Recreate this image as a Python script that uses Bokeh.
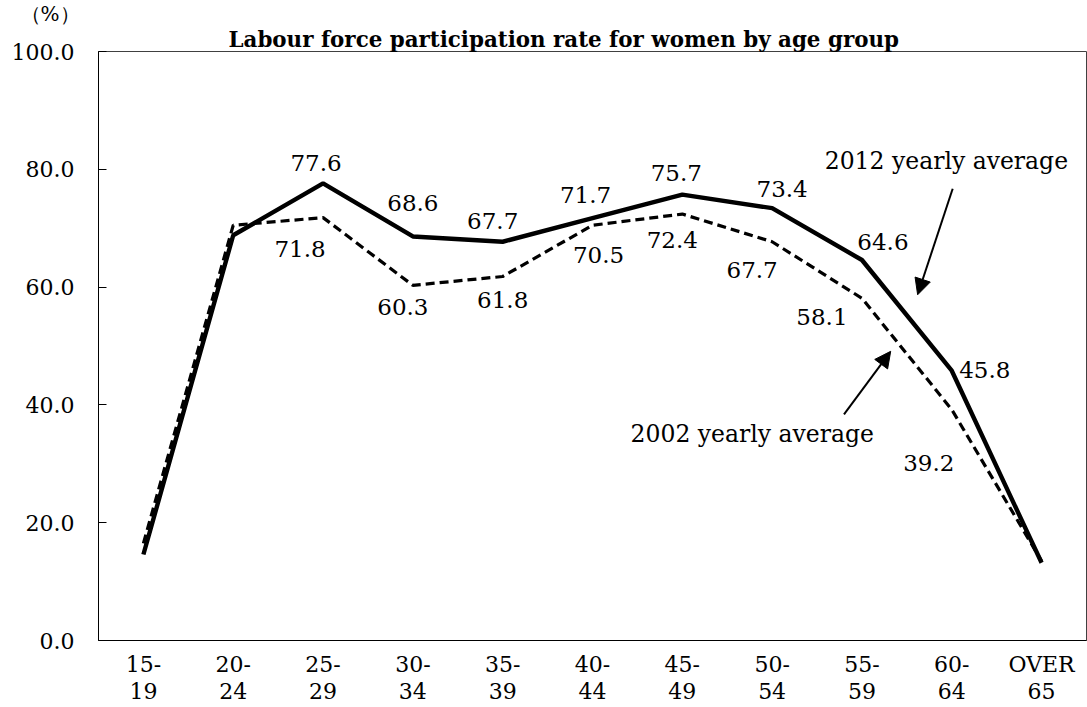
from bokeh.plotting import figure
from bokeh.models import (ColumnDataSource, FixedTicker, NumeralTickFormatter, Label, Title,
                          Arrow, NormalHead, Range1d, FactorRange)
from bokeh.core.properties import value
from bokeh.embed import file_html
from bokeh.resources import INLINE

# ---- data ----
age_groups = ["15-\n19", "20-\n24", "25-\n29", "30-\n34", "35-\n39", "40-\n44",
              "45-\n49", "50-\n54", "55-\n59", "60-\n64", "OVER\n65"]
rate_2012 = [14.6, 68.8, 77.6, 68.6, 67.7, 71.7, 75.7, 73.4, 64.6, 45.8, 13.2]
rate_2002 = [16.5, 70.5, 71.8, 60.3, 61.8, 70.5, 72.4, 67.7, 58.1, 39.2, 13.5]
y_ticks = [0, 20, 40, 60, 80, 100]
labelled = list(range(2, 10))  # groups whose values are printed

title_text = "Labour force participation rate for women by age group"
unit_text = "（%）"
name_2012 = "2012 yearly average"
name_2002 = "2002 yearly  average"

# label offsets (screen px) - style only
off_2012 = [(-7, -20), (0, -33), (-10, -21), (-7, -23), (-6, -22), (10, -19), (21, -18), (33, -1)]
off_2002 = [(-23, 31), (-10, 22), (0, 24), (6, 30), (-10, 26), (-20, 28), (-40, 19), (-23, 53)]

FONT = "DejaVu Serif"
FS = "22px"
FS_LBL = "23px"

p = figure(x_range=FactorRange(*age_groups, range_padding=0), y_range=Range1d(0, 100),
           width=1087, height=707, output_backend="svg", toolbar_location=None,
           min_border_left=98, min_border_right=1, min_border_top=0, min_border_bottom=64)
p.x_range.factor_padding = 0
p.xgrid.visible = False
p.ygrid.visible = False
p.outline_line_color = "#404040"
p.outline_line_width = 1
p.background_fill_color = "white"
p.border_fill_color = "white"

# titles (first added sits nearest the frame)
p.add_layout(Title(text=title_text, align="left", offset=130, text_font=FONT,
                   text_font_size="21.4px", text_font_style="bold", text_color="black",
                   standoff=0), "above")
p.add_layout(Title(text=unit_text, align="left", offset=-78, text_font=FONT,
                   text_font_size="20px", text_font_style="normal", text_color="black",
                   standoff=-2), "above")

# axes
p.yaxis.ticker = FixedTicker(ticks=y_ticks)
p.yaxis.formatter = NumeralTickFormatter(format="0.0")
p.yaxis.minor_tick_line_color = None
p.yaxis.major_tick_in = 8
p.yaxis.major_tick_out = 0
p.yaxis.major_label_standoff = 24
p.yaxis.axis_line_color = "black"
p.yaxis.major_tick_line_color = "black"
p.xaxis.major_tick_line_color = None
p.xaxis.minor_tick_line_color = None
p.xaxis.axis_line_color = "black"
p.xaxis.major_label_standoff = 5
p.xaxis.major_label_text_line_height = 1.1
for ax in (p.xaxis, p.yaxis):
    ax.major_label_text_font = FONT
    ax.major_label_text_font_size = FS
    ax.major_label_text_color = "black"

# lines
p.line(age_groups, rate_2002, line_color="black", line_width=3.2, line_dash="9 5")
p.line(age_groups, rate_2012, line_color="black", line_width=4.4)

# value labels
def label_source(vals, offs):
    return ColumnDataSource(dict(
        x=[age_groups[i] for i in labelled],
        y=[vals[i] for i in labelled],
        t=[f"{vals[i]:.1f}" for i in labelled],
        dx=[o[0] for o in offs],
        dy=[o[1] for o in offs],
    ))

for src in (label_source(rate_2012, off_2012), label_source(rate_2002, off_2002)):
    p.text(x="x", y="y", text="t", x_offset="dx", y_offset="dy", source=src,
           text_font=value(FONT), text_font_size=FS_LBL, text_color="black",
           text_align="center", text_baseline="middle")

# series names and arrows
p.add_layout(Label(x=9.44, y=81.4, text=name_2012, text_font=FONT, text_font_size="23.5px",
                   text_align="center", text_baseline="middle", text_color="black"))
p.add_layout(Label(x=7.32, y=35.1, text=name_2002, text_font=FONT, text_font_size="23.5px",
                   text_align="center", text_baseline="middle", text_color="black"))
p.add_layout(Arrow(x_start=9.51, y_start=76.7, x_end=9.12, y_end=58.7, line_width=2,
                   line_color="black",
                   end=NormalHead(size=16, fill_color="black", line_color="black")))
p.add_layout(Arrow(x_start=8.30, y_start=38.4, x_end=8.82, y_end=49.1, line_width=2,
                   line_color="black",
                   end=NormalHead(size=16, fill_color="black", line_color="black")))

open("out.html", "w").write(file_html(p, INLINE))
